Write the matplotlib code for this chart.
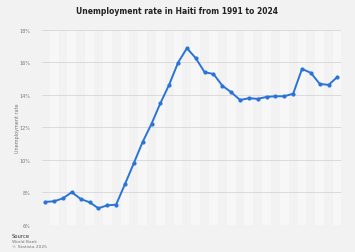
import numpy as np
import matplotlib.pyplot as plt

years = list(range(1991, 2025))
rate = [7.40, 7.44, 7.62, 8.00, 7.58, 7.38, 7.01, 7.19, 7.23, 8.49,
        9.78, 11.09, 12.20, 13.47, 14.62, 15.97, 16.86, 16.24, 15.38, 15.27,
        14.55, 14.15, 13.67, 13.78, 13.74, 13.86, 13.90, 13.90, 14.06, 15.58,
        15.34, 14.66, 14.60, 15.09]
yticks = [6, 8, 10, 12, 14, 16, 18]

fig = plt.figure(figsize=(3.55, 2.53), dpi=100)
fig.patch.set_facecolor('#f2f2f2')
ax = fig.add_axes([0.1175, 0.108, 0.843, 0.771])
ax.set_facecolor('#f2f2f2')

# alternating year bands
for i, yr in enumerate(years):
    if i % 2 == 1:
        ax.axvspan(yr - 0.5, yr + 0.5, color='#f7f7f7', lw=0, zorder=0)

for t in yticks:
    ax.axhline(t, color='#d6d6d6', lw=0.6, zorder=1)

ax.plot(years, rate, color='#2a74d9', lw=1.4, marker='o', ms=2.0, zorder=3)

ax.set_xlim(1990.6, 2024.4)
ax.set_ylim(6, 18)
ax.set_xticks([])
ax.set_yticks(yticks)
ax.set_yticklabels([f'{t}%' for t in yticks], fontsize=3.5, color='#777777')
ax.tick_params(axis='y', length=0, pad=8)
for s in ax.spines.values():
    s.set_visible(False)

ax.set_ylabel('Unemployment rate', fontsize=3.5, color='#777777', labelpad=0)

fig.text(0.5, 0.953, 'Unemployment rate in Haiti from 1991 to 2024', ha='center', va='center',
         fontsize=5.5, fontweight='bold', color='#222222')
fig.text(0.033, 0.067, 'Source', fontsize=3.8, color='#333333', va='center')
fig.text(0.033, 0.044, 'World Bank', fontsize=3.2, color='#777777', va='center')
fig.text(0.033, 0.022, '© Statista 2025', fontsize=3.2, color='#777777', va='center')

fig.savefig('out.png', dpi=100, facecolor=fig.get_facecolor())
